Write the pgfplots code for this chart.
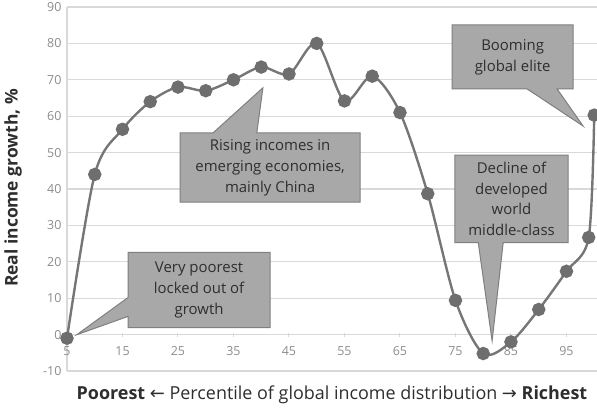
\documentclass[border=0pt]{standalone}
\usepackage{fontspec}
\setmainfont{Open Sans}
\newfontfamily\djv{DejaVu Sans}
\usepackage{pgfplots}
\pgfplotsset{compat=1.18}

\definecolor{gridc}{HTML}{D9D9D9}
\definecolor{linec}{HTML}{767676}
\definecolor{markc}{HTML}{6E6E6E}
\definecolor{boxc}{HTML}{A8A8A8}
\definecolor{boxd}{HTML}{7F7F7F}
\definecolor{txt}{HTML}{2E2E2E}
\definecolor{tickc}{HTML}{8C8C8C}

\newcommand{\callf}{\fontsize{15}{21}\selectfont}

\begin{document}
\begin{tikzpicture}
\begin{axis}[
    scale only axis,
    width=530bp, height=364bp,
    xmin=5, xmax=100.5,
    ymin=-10, ymax=90,
    axis x line=middle, axis y line=left,
    axis line style={-, draw=gridc, line width=1.2bp},
    hide obscured x ticks=false, hide obscured y ticks=false,
    xtick={5,15,...,95},
    ytick={-10,0,...,90},
    ymajorgrids,
    grid style={gridc, line width=1.2bp},
    major tick length=4bp,
    xtick style={gridc, line width=1bp},
    ytick style={draw=none},
    tick label style={font=\fontsize{12.5}{12.5}\selectfont, text=tickc},
    xticklabel style={yshift=-6bp},
    /pgf/number format/assume math mode=true,
]
% real income growth by percentile
\addplot[linec, line width=2.4bp, smooth,
    mark=*, mark size=5.5bp, mark options={fill=markc, draw=markc}]
coordinates {
    (5,-1) (10,44) (15,56.4) (20,64) (25,68) (30,67) (35,70)
    (40,73.5) (45,71.6) (50,80) (55,64.2) (60,71) (65,61)
    (70,38.7) (75,9.4) (80,-5.2) (85,-2) (90,6.9) (95,17.4)
    (99,26.7) (100,60.3)
};

% callouts
\draw[boxd, fill=boxc, line width=1bp]
    (axis cs:25.4,36.4) -- (axis cs:25.4,55.4) -- (axis cs:31.3,55.4)
    -- (axis cs:40.3,67.8) -- (axis cs:39.2,55.4) -- (axis cs:57.8,55.4)
    -- (axis cs:57.8,36.4) -- cycle;
\node[align=center, text=txt, font=\callf] at (axis cs:41.6,45.9)
    {Rising incomes in\\emerging economies,\\mainly China};

\draw[boxd, fill=boxc, line width=1bp]
    (axis cs:74.4,67.5) -- (axis cs:74.4,85.1) -- (axis cs:96.2,85.1)
    -- (axis cs:96.2,67.5) -- (axis cs:93.3,67.5) -- (axis cs:98.0,57.3)
    -- (axis cs:87.9,67.5) -- cycle;
\node[align=center, text=txt, font=\callf] at (axis cs:85.3,76.3)
    {Booming\\global elite};

\draw[boxd, fill=boxc, line width=1bp]
    (axis cs:74.9,25.3) -- (axis cs:74.9,49.3) -- (axis cs:95.3,49.3)
    -- (axis cs:95.3,25.3) -- (axis cs:83.6,25.3) -- (axis cs:81.6,-1.7)
    -- (axis cs:79.1,25.3) -- cycle;
\node[align=center, text=txt, font=\callf] at (axis cs:85.1,37.3)
    {Decline of\\developed\\world\\middle-class};

\draw[boxd, fill=boxc, line width=1bp]
    (axis cs:16.0,1.9) -- (axis cs:16.0,5.0) -- (axis cs:6.8,0.0)
    -- (axis cs:16.0,10.2) -- (axis cs:16.0,22.6) -- (axis cs:41.6,22.6)
    -- (axis cs:41.6,1.9) -- cycle;
\node[align=center, text=txt, font=\callf] at (axis cs:28.8,12.25)
    {Very poorest\\locked out of\\growth};
\end{axis}

\node[rotate=90, text=txt, font=\fontsize{17.5}{17.5}\selectfont\bfseries]
    at (-54bp,183bp) {Real income growth, \%};
\node[text=txt, font=\fontsize{18}{18}\selectfont]
    at (265bp,-24bp) {\textbf{Poorest} {\djv ←} Percentile of global income distribution {\djv →} \textbf{Richest}};

\pgfresetboundingbox
\path[use as bounding box] (-67bp,-43bp) rectangle (530bp,371bp);
\end{tikzpicture}
\end{document}
